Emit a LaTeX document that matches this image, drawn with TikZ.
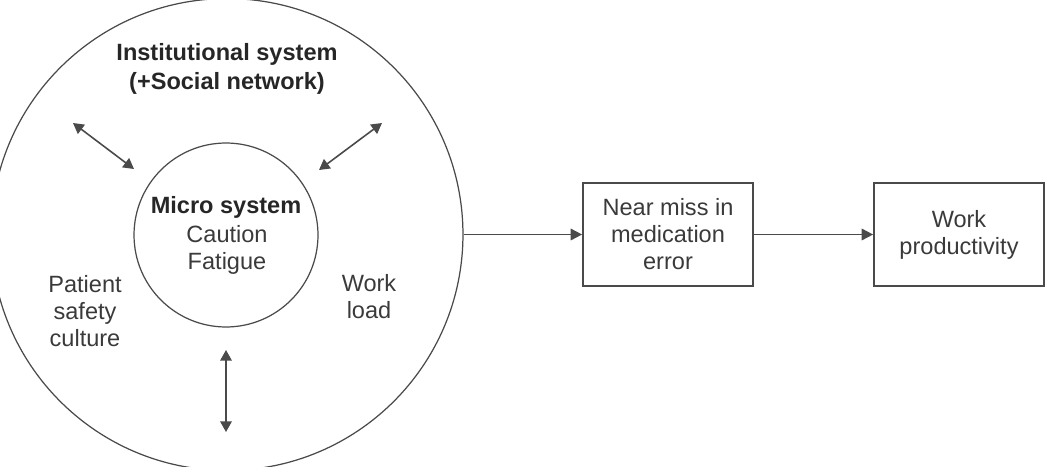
\documentclass[tikz,border=0pt]{standalone}
\usepackage{fontspec}
\setmainfont{Liberation Sans}
\usepackage{tikz}
\usetikzlibrary{arrows.meta,positioning,shapes.geometric}
\definecolor{linegray}{HTML}{4A4A4A}
\definecolor{textgray}{HTML}{3A3A3A}
\tikzset{
  ar/.style={-{Triangle[length=6.5pt,width=6.5pt]},line width=1pt,linegray},
  dar/.style={{Triangle[length=6pt,width=6.5pt]}-{Triangle[length=6pt,width=6.5pt]},line width=0.9pt,linegray},
  ring/.style={circle,draw=linegray,line width=0.7pt,inner sep=0pt},
  box/.style={draw=linegray,line width=1pt,minimum width=3.4cm,minimum height=2.06cm,align=center,inner sep=0pt},
  lbl/.style={align=center,text=textgray,font=\fontsize{13.4}{15.4}\selectfont,inner sep=0pt},
  blbl/.style={lbl,text=black!85,font=\fontsize{13.4}{16.4}\selectfont\bfseries}
}
\begin{document}
\begin{tikzpicture}[x=0.02cm,y=-0.02cm]
\useasboundingbox (0,0) rectangle (1050,466);
% systems
\node[ring,minimum size=9.44cm] (inst) at (227,234.5) {};
\node[ring,minimum size=3.68cm] (micro) at (226,235) {};
\node[blbl] (insttxt) at (227,69) {Institutional system\\(+Social network)};
\node[blbl] (microtxt) at (226,207) {Micro system};
\node[lbl] (microitems) at (227,250) {Caution\\Fatigue};
\node[lbl] (culture) at (85,311) {Patient\\safety\\culture};
\node[lbl] (workload) at (369,297) {Work\\load};
% interactions
\coordinate (ulo) at (73,123);
\coordinate (uli) at (134,169);
\coordinate (uro) at (382,123);
\coordinate (uri) at (319,170);
\coordinate (dt) at (226,350);
\coordinate (db) at (226,432);
\draw[dar] (ulo) -- (uli);
\draw[dar] (uro) -- (uri);
\draw[dar] (dt) -- (db);
% outcomes
\node[box,lbl] (nearmiss) at (668,234.5) {Near miss in\\medication\\error};
\node[box,lbl] (prod) at (959,234.5) {Work\\productivity};
\draw[ar] (inst.east) -- (nearmiss.west);
\draw[ar] (nearmiss) -- (prod);
\end{tikzpicture}
\end{document}
